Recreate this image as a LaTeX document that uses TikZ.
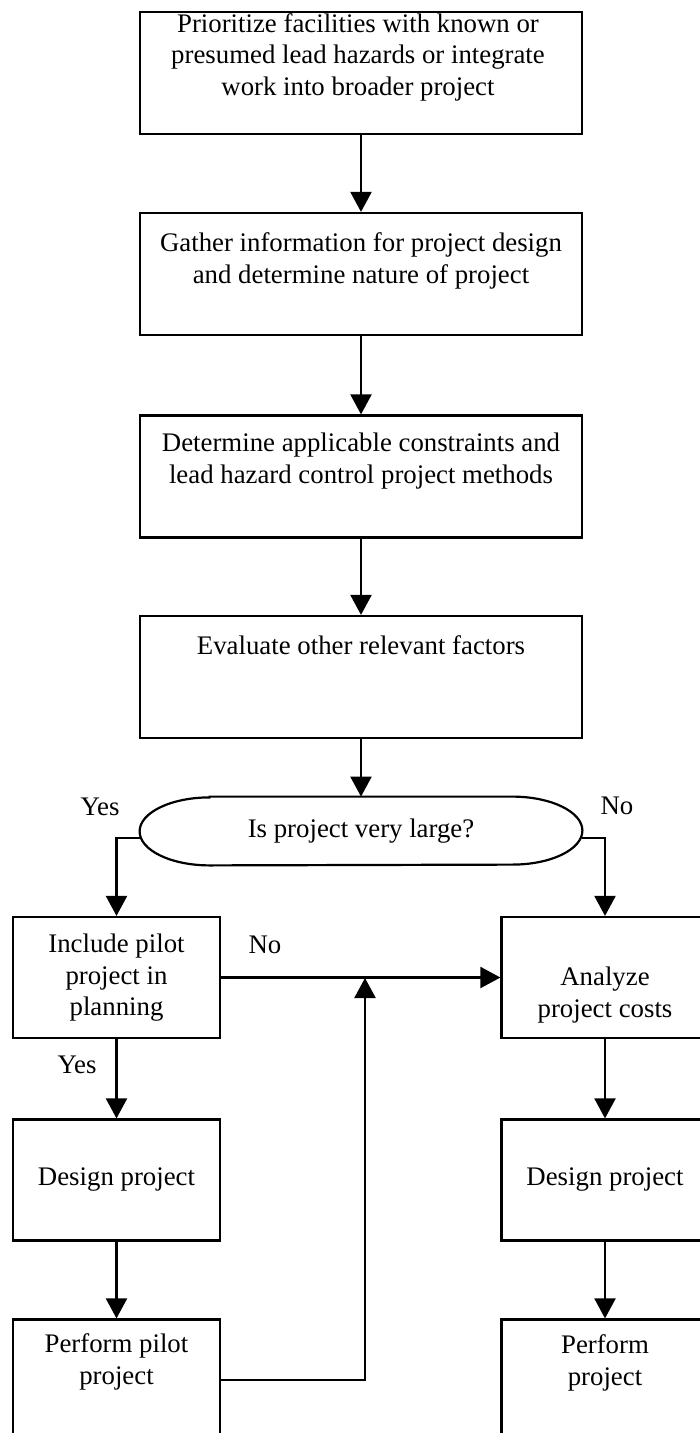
\documentclass[tikz,border=0pt]{standalone}
\usepackage{fontspec}
\setmainfont{Liberation Serif}
\usetikzlibrary{arrows.meta}
\begin{document}
\begin{tikzpicture}[x=0.5pt,y=0.5pt,
  every node/.style={font=\fontsize{13.4pt}{15.75pt}\selectfont},
  wbox/.style={draw,line width=1.1pt,inner sep=0pt,minimum width=221pt,minimum height=61pt},
  sbox/.style={draw,line width=1.1pt,inner sep=0pt,minimum width=103.5pt,minimum height=60.5pt},
  txt/.style={align=center,inner sep=0pt},
  lbl/.style={inner sep=0pt},
  arr/.style={line width=1.1pt,-{Triangle[length=10pt,width=10.5pt]}},
  ln/.style={line width=1.1pt}]
\useasboundingbox (0,0) rectangle (700,-1433);
\clip (0,0) rectangle (700,-1433);
% main boxes
\node[wbox] (b1) at (361,-73) {};
\node[wbox] (b2) at (361,-274) {};
\node[wbox] (b3) at (361,-476.5) {};
\node[wbox] (b4) at (361,-677) {};
\node[txt] (t1) at (358,-57) {Prioritize facilities with known or\\presumed lead hazards or integrate\\work into broader project};
\node[txt] (t2) at (361,-261) {Gather information for project design\\and determine nature of project};
\node[txt] (t3) at (361,-461) {Determine applicable constraints and\\lead hazard control project methods};
\node[txt] (t4) at (361,-645) {Evaluate other relevant factors};
% decision
\node[txt,minimum width=221pt,minimum height=34pt] (dec) at (361,-831) {Is project very large?};
\draw[ln] ([xshift=35pt]dec.north west) -- ([xshift=-35pt]dec.north east)
  arc[start angle=90,end angle=-90,x radius=35pt,y radius=17pt]
  -- ([xshift=35pt]dec.south west)
  arc[start angle=270,end angle=90,x radius=35pt,y radius=17pt] -- cycle;
% side boxes
\node[sbox] (L1) at (116.5,-977.5) {};
\node[sbox] (R1) at (605,-977.5) {};
\node[sbox] (L2) at (116.5,-1180) {};
\node[sbox] (R2) at (605,-1180) {};
\node[sbox] (L3) at (116.5,-1380) {};
\node[sbox] (R3) at (605,-1380) {};
\node[txt] (tL1) at (116.5,-978) {Include pilot\\project in\\planning};
\node[txt] (tR1) at (605,-995) {Analyze\\project costs};
\node[txt] (tL2) at (116.5,-1180) {Design project};
\node[txt] (tR2) at (605,-1180) {Design project};
\node[txt] (tL3) at (116.5,-1362) {Perform pilot\\project};
\node[txt] (tR3) at (605,-1363) {Perform\\project};
% labels
\node[lbl] (y1) at (100,-807) {Yes};
\node[lbl] (n1) at (617,-806) {No};
\node[lbl] (n2) at (265,-945) {No};
\node[lbl] (y2) at (77,-1065) {Yes};
% connectors
\draw[arr] (b1.south) -- (b2.north);
\draw[arr] (b2.south) -- (b3.north);
\draw[arr] (b3.south) -- (b4.north);
\draw[arr] (b4.south) -- (dec.north);
\draw[arr] ([yshift=-3.5pt]dec.west) -| (L1.north);
\draw[arr] ([yshift=-3.5pt]dec.east) -| (R1.north);
\draw[arr] (L1.east) -- (R1.west);
\draw[arr] (L1.south) -- (L2.north);
\draw[arr] (L2.south) -- (L3.north);
\draw[arr] (R1.south) -- (R2.north);
\draw[arr] (R2.south) -- (R3.north);
\coordinate (j) at (365,-978);
\draw[arr] (L3.east) -| (j);
\end{tikzpicture}
\end{document}
